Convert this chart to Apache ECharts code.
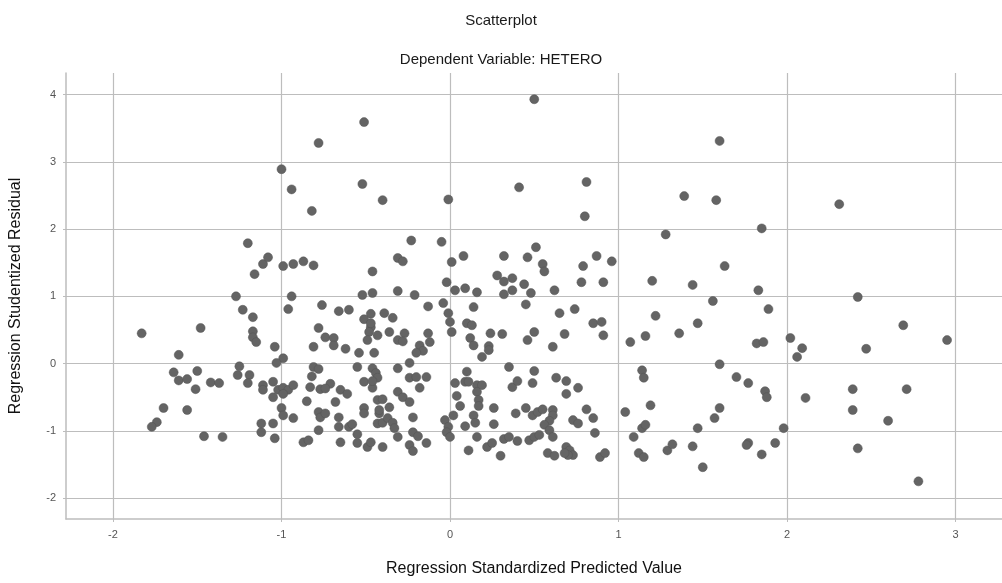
<!DOCTYPE html>
<html>
<head>
<meta charset="utf-8">
<script src="https://cdn.jsdelivr.net/npm/echarts@6/dist/echarts.min.js"></script>
<style>
html,body{margin:0;padding:0;background:#fff;}
#chart{width:1002px;height:583px;}
</style>
</head>
<body>
<div id="chart"></div>
<script>
// Regression Standardized Predicted Value (x) and Regression Studentized Residual (y)
var predicted = [
  0.50,-0.51,-0.78,-1.00,-0.94,-0.52,-0.82,-0.40,-0.01,0.41,0.81,0.80,1.39,1.60,1.58,2.31,1.85,1.28,1.63,1.44,1.83,1.56,2.42,1.20,
  -0.23,-0.05,-0.31,-0.28,-0.46,-0.46,0.01,0.08,-0.02,0.03,0.09,0.16,-0.21,-0.31,0.51,0.46,0.32,0.55,0.56,0.28,0.32,0.37,0.44,0.37,0.48,0.62,0.79,0.78,0.87,0.96,0.91,0.32,
  -1.20,-1.16,-1.11,-1.08,-0.99,-0.93,-0.87,-0.81,-1.27,-0.94,-0.52,
  -0.96,-1.23,-1.17,-0.76,-0.66,-0.60,-0.47,-0.51,-1.83,-1.48,-1.17,-1.17,-1.15,-1.04,-0.78,-0.74,-0.69,-0.69,-0.81,-0.62,-0.54,-0.47,-0.48,-0.49,-0.43,-0.45,
  -1.61,-0.99,-1.03,-0.55,-0.81,-0.78,-0.46,-0.44,-1.64,-1.50,-1.25,-1.26,-1.19,-1.20,-1.11,-1.11,-1.05,-1.02,-1.05,-0.99,-0.96,-0.93,-0.99,-0.82,-0.83,-0.77,-0.71,-0.74,-0.65,-0.61,-0.68,-0.85,-0.51,-0.46,
  -1.61,-1.56,-1.51,-1.42,-1.37,-1.70,-1.56,-1.74,-1.77,-1.46,-1.35,-1.12,-1.12,-1.05,-1.04,-1.00,-0.99,-0.93,-0.78,-0.77,-0.74,-0.66,-0.66,-0.78,-0.60,-0.58,-0.87,-0.84,-0.65,-0.55,-0.55,-0.51,-0.51,-0.49,-0.47,-0.43,-0.43,-0.42,
  -0.39,-0.34,-0.13,-0.04,-0.01,0.00,0.01,0.14,0.10,0.13,0.45,0.65,0.74,0.85,0.90,0.91,1.22,1.07,1.16,1.36,-0.47,-0.36,-0.27,-0.31,-0.28,-0.13,-0.12,-0.18,-0.16,-0.20,0.12,0.14,0.19,0.23,0.23,0.24,0.31,0.46,0.50,0.61,0.68,
  -0.43,-0.46,-0.31,-0.24,-0.24,-0.20,-0.14,-0.18,-0.31,-0.28,-0.24,-0.40,-0.42,-0.36,-0.40,-0.37,-0.34,-0.33,-0.31,-0.22,-0.22,-0.19,-0.14,-0.24,-0.22,-0.40,
  0.10,0.03,0.09,0.11,0.16,0.19,0.16,0.17,0.17,0.04,0.06,0.02,-0.03,-0.01,-0.02,0.00,0.09,0.14,0.15,0.26,0.26,0.16,0.11,0.22,0.25,0.30,0.32,0.35,0.40,
  0.35,0.50,0.49,0.37,0.40,0.39,0.45,0.49,0.52,0.55,0.61,0.61,0.59,0.56,0.59,0.61,0.47,0.50,0.53,0.58,0.62,0.69,0.71,0.73,0.70,0.68,
  0.63,0.69,0.76,0.69,0.73,0.76,0.81,0.85,0.86,0.89,0.92,1.04,1.09,1.14,1.15,1.19,1.14,1.16,1.12,1.15,1.29,1.32,
  1.89,1.47,2.69,2.95,1.82,1.86,2.02,2.09,2.06,2.47,1.60,1.70,1.77,1.87,1.88,2.11,2.39,2.39,2.71,2.60,1.60,1.57,1.47,1.44,1.50,1.77,1.76,1.85,1.93,1.98,2.42,2.78
];
var residual = [
  3.93,3.59,3.28,2.89,2.59,2.67,2.27,2.43,2.44,2.62,2.70,2.19,2.49,3.31,2.43,2.37,2.01,1.92,1.45,1.17,1.09,0.93,0.99,1.23,
  1.83,1.81,1.57,1.52,1.37,1.05,1.51,1.60,1.21,1.09,1.12,1.06,1.02,1.08,1.73,1.58,1.60,1.48,1.37,1.31,1.22,1.27,1.18,1.09,1.05,1.09,1.45,1.21,1.60,1.52,1.21,1.03,
  1.79,1.33,1.48,1.58,1.45,1.48,1.52,1.46,1.00,1.00,1.02,
  0.81,0.80,0.69,0.87,0.78,0.80,0.74,0.66,0.45,0.53,0.48,0.39,0.32,0.25,0.53,0.39,0.38,0.27,0.25,0.22,0.16,0.54,0.47,0.35,0.42,0.16,
  0.13,0.08,0.01,-0.05,-0.05,-0.08,-0.07,-0.14,-0.13,-0.11,-0.04,-0.17,-0.17,-0.29,-0.32,-0.39,-0.27,-0.39,-0.50,-0.36,-0.39,-0.32,-0.45,-0.19,-0.35,-0.38,-0.30,-0.37,-0.39,-0.45,-0.57,-0.56,-0.27,-0.36,
  -0.25,-0.23,-0.38,-0.28,-0.29,-0.66,-0.69,-0.87,-0.94,-1.08,-1.09,-0.89,-1.02,-0.89,-1.11,-0.66,-0.77,-0.81,-0.72,-0.80,-0.74,-0.80,-0.94,-0.99,-0.94,-0.90,-1.17,-1.14,-1.17,-1.05,-1.18,-0.66,-0.74,-1.24,-1.17,-0.89,-0.54,-0.74,
  0.75,0.68,0.85,0.90,0.75,0.62,0.47,0.84,0.60,0.57,0.88,0.75,0.81,0.60,0.62,0.42,0.71,0.32,0.41,0.45,0.60,0.47,0.45,0.35,0.33,0.45,0.32,0.27,0.19,0.16,0.38,0.27,0.10,0.26,0.20,0.45,0.44,0.35,0.47,0.25,0.44,
  -0.21,-0.26,-0.07,0.01,-0.21,-0.20,-0.20,-0.36,-0.42,-0.50,-0.57,-0.53,-0.69,-0.65,-0.88,-0.81,-0.88,-0.96,-1.09,-0.80,-1.02,-1.08,-1.18,-1.21,-1.30,-1.24,
  -0.12,-0.29,-0.27,-0.27,-0.32,-0.32,-0.42,-0.54,-0.63,-0.48,-0.63,-0.77,-0.84,-0.94,-1.02,-1.09,-0.93,-0.77,-0.88,-0.66,-0.90,-1.09,-1.29,-1.24,-1.18,-1.37,-1.12,-1.09,-1.15,
  -0.05,-0.11,-0.29,-0.35,-0.26,-0.74,-0.66,-0.77,-0.72,-0.68,-0.69,-0.77,-0.85,-0.91,-0.99,-1.09,-1.14,-1.09,-1.06,-1.33,-1.37,-1.24,-1.29,-1.36,-1.36,-1.33,
  -0.21,-0.26,-0.36,-0.45,-0.84,-0.89,-0.68,-0.81,-1.03,-1.39,-1.33,-0.72,-1.09,-0.10,-0.21,-0.62,-0.96,-0.91,-1.33,-1.39,-1.29,-1.20,
  0.81,0.60,0.57,0.35,0.30,0.32,0.38,0.23,0.10,0.22,-0.01,-0.20,-0.29,-0.41,-0.50,-0.51,-0.38,-0.69,-0.38,-0.85,-0.66,-0.81,-0.96,-1.23,-1.54,-1.18,-1.21,-1.35,-1.18,-0.96,-1.26,-1.75
];
var xTicks = [-2, -1, 0, 1, 2, 3];
var yTicks = [-2, -1, 0, 1, 2, 3, 4];
var chartTitle = 'Scatterplot';
var chartSubtitle = 'Dependent Variable: HETERO';
var xTitle = 'Regression Standardized Predicted Value';
var yTitle = 'Regression Studentized Residual';

var pts = predicted.map(function (x, i) { return [x, residual[i]]; });
var FONT = '"Liberation Sans", Arial, sans-serif';
var gridColor = '#bdbdbd';

var chart = echarts.init(document.getElementById('chart'), null, {renderer: 'canvas'});
chart.setOption({
  animation: false,
  backgroundColor: '#ffffff',
  title: [
    {text: chartTitle, left: 'center', top: 8, textStyle: {fontFamily: FONT, fontSize: 15, fontWeight: 'normal', color: '#1a1a1a'}},
    {text: chartSubtitle, left: 'center', top: 47, textStyle: {fontFamily: FONT, fontSize: 15, fontWeight: 'normal', color: '#1a1a1a'}}
  ],
  grid: {left: 66, top: 73, right: 0, bottom: 64, containLabel: false},
  xAxis: {
    type: 'value',
    min: -2.279, max: 3.276,
    name: xTitle, nameLocation: 'middle', nameGap: 42,
    nameTextStyle: {fontFamily: FONT, fontSize: 16, color: '#111'},
    axisLine: {show: true, onZero: false, lineStyle: {color: gridColor, width: 1.5}},
    axisTick: {show: true, length: 3, customValues: xTicks, lineStyle: {color: gridColor}},
    axisLabel: {customValues: xTicks, fontFamily: FONT, fontSize: 11, color: '#555', margin: 10},
    splitLine: {show: true, lineStyle: {color: gridColor, width: 1.2}}
  },
  yAxis: {
    type: 'value',
    min: -2.31, max: 4.32,
    name: yTitle, nameLocation: 'middle', nameGap: 42, nameRotate: 90,
    nameTextStyle: {fontFamily: FONT, fontSize: 16, color: '#111'},
    axisLine: {show: true, onZero: false, lineStyle: {color: gridColor, width: 1.5}},
    axisTick: {show: true, length: 3, customValues: yTicks, lineStyle: {color: gridColor}},
    axisLabel: {customValues: yTicks, fontFamily: FONT, fontSize: 11, color: '#555', margin: 10},
    splitLine: {show: true, lineStyle: {color: gridColor, width: 1.2}}
  },
  series: [{
    type: 'scatter',
    data: pts,
    symbol: 'circle',
    symbolSize: 9,
    itemStyle: {color: '#646464', borderColor: '#555', borderWidth: 0.5, opacity: 1}
  }]
});
</script>
</body>
</html>
